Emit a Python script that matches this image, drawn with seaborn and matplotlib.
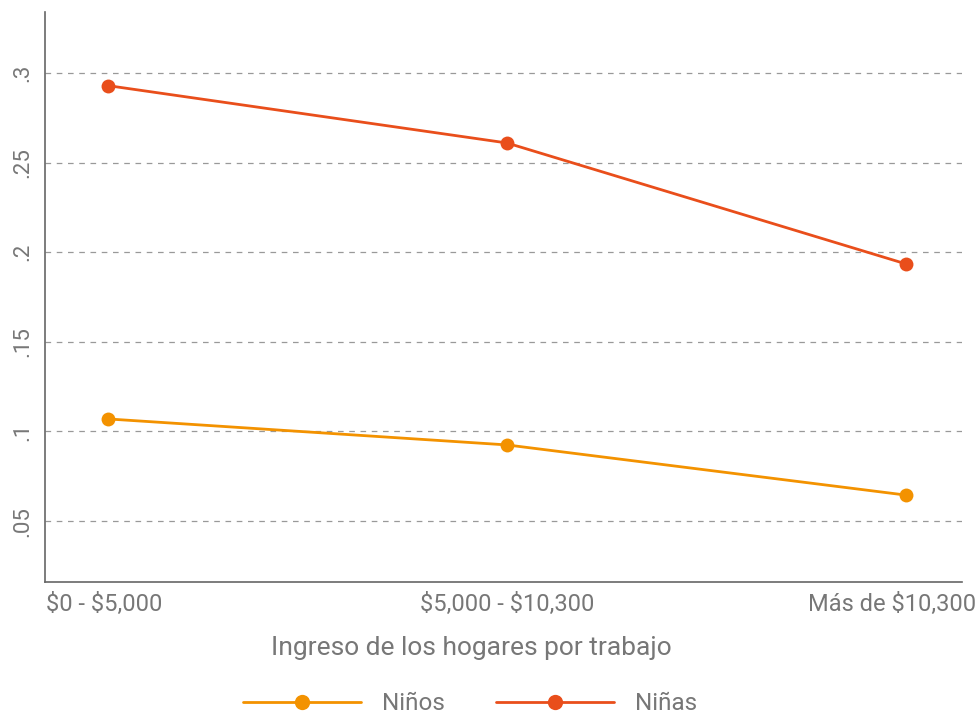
import matplotlib
matplotlib.use("Agg")
import matplotlib.pyplot as plt
import matplotlib.transforms as mtransforms
import seaborn as sns
import pandas as pd
from matplotlib.lines import Line2D

categories = ["$0 - $5,000", "$5,000 - $10,300", "Más de $10,300"]
ninos = [0.107, 0.0925, 0.0645]
ninas = [0.293, 0.261, 0.1935]
series_names = ["Niños", "Niñas"]
yticks = [0.05, 0.10, 0.15, 0.20, 0.25, 0.30]
ytick_labels = [".05", ".1", ".15", ".2", ".25", ".3"]
xlabel = "Ingreso de los hogares por trabajo"

colors = {"Niños": "#F39200", "Niñas": "#E94E1B"}
gray = "#777777"

df = pd.DataFrame({
    "x": list(range(len(categories))) * 2,
    "val": ninos + ninas,
    "serie": [series_names[0]] * 3 + [series_names[1]] * 3,
})

sns.set_style("white")
plt.rcParams["font.family"] = ["Roboto", "DejaVu Sans"]
plt.rcParams["text.parse_math"] = False

fig = plt.figure(figsize=(9.77, 7.15), dpi=100)
ax = fig.add_axes([0.046, 0.186, 0.9385, 0.797])

sns.lineplot(data=df, x="x", y="val", hue="serie", palette=colors, marker="o",
             markersize=10, markeredgewidth=0, linewidth=2, ax=ax, legend=False)

ax.set_xlim(-0.158, 2.14)
ax.set_ylim(0.016, 0.334)
ax.set_xticks(range(len(categories)))
ax.set_xticklabels(categories, fontsize=17, color=gray)
ax.set_yticks(yticks)
ax.set_yticklabels(ytick_labels, fontsize=16, color=gray, rotation=90, va="center")
ax.tick_params(axis="both", length=0, pad=8)
ax.set_xlabel(xlabel, fontsize=19, color=gray)
ax.xaxis.set_label_coords((471 - 45) / (962 - 45), -0.095)
ax.set_ylabel("")
for y in yticks:
    ax.axhline(y, color="#999999", lw=0.9, ls=(0, (4.5, 4.5)), zorder=0)
for s in ["top", "right"]:
    ax.spines[s].set_visible(False)
for s in ["left", "bottom"]:
    ax.spines[s].set_color("#666666")
    ax.spines[s].set_linewidth(1.2)

# shift edge tick labels inward like the reference
fig.canvas.draw()
labels = ax.get_xticklabels()
labels[0].set_transform(labels[0].get_transform() + mtransforms.ScaledTranslation(-4 / 100, 0, fig.dpi_scale_trans))
labels[-1].set_transform(labels[-1].get_transform() + mtransforms.ScaledTranslation(-14 / 100, 0, fig.dpi_scale_trans))

handles = [Line2D([], [], color=colors[n], lw=2, marker="o", markersize=11, markeredgewidth=0)
           for n in series_names]
fig.legend(handles, series_names, loc="lower center", bbox_to_anchor=(0.481, -0.031), ncol=2,
           frameon=False, fontsize=17.5, labelcolor=gray, handlelength=4.86, columnspacing=2.1,
           handletextpad=0.86)

fig.savefig("out.png", dpi=100)
